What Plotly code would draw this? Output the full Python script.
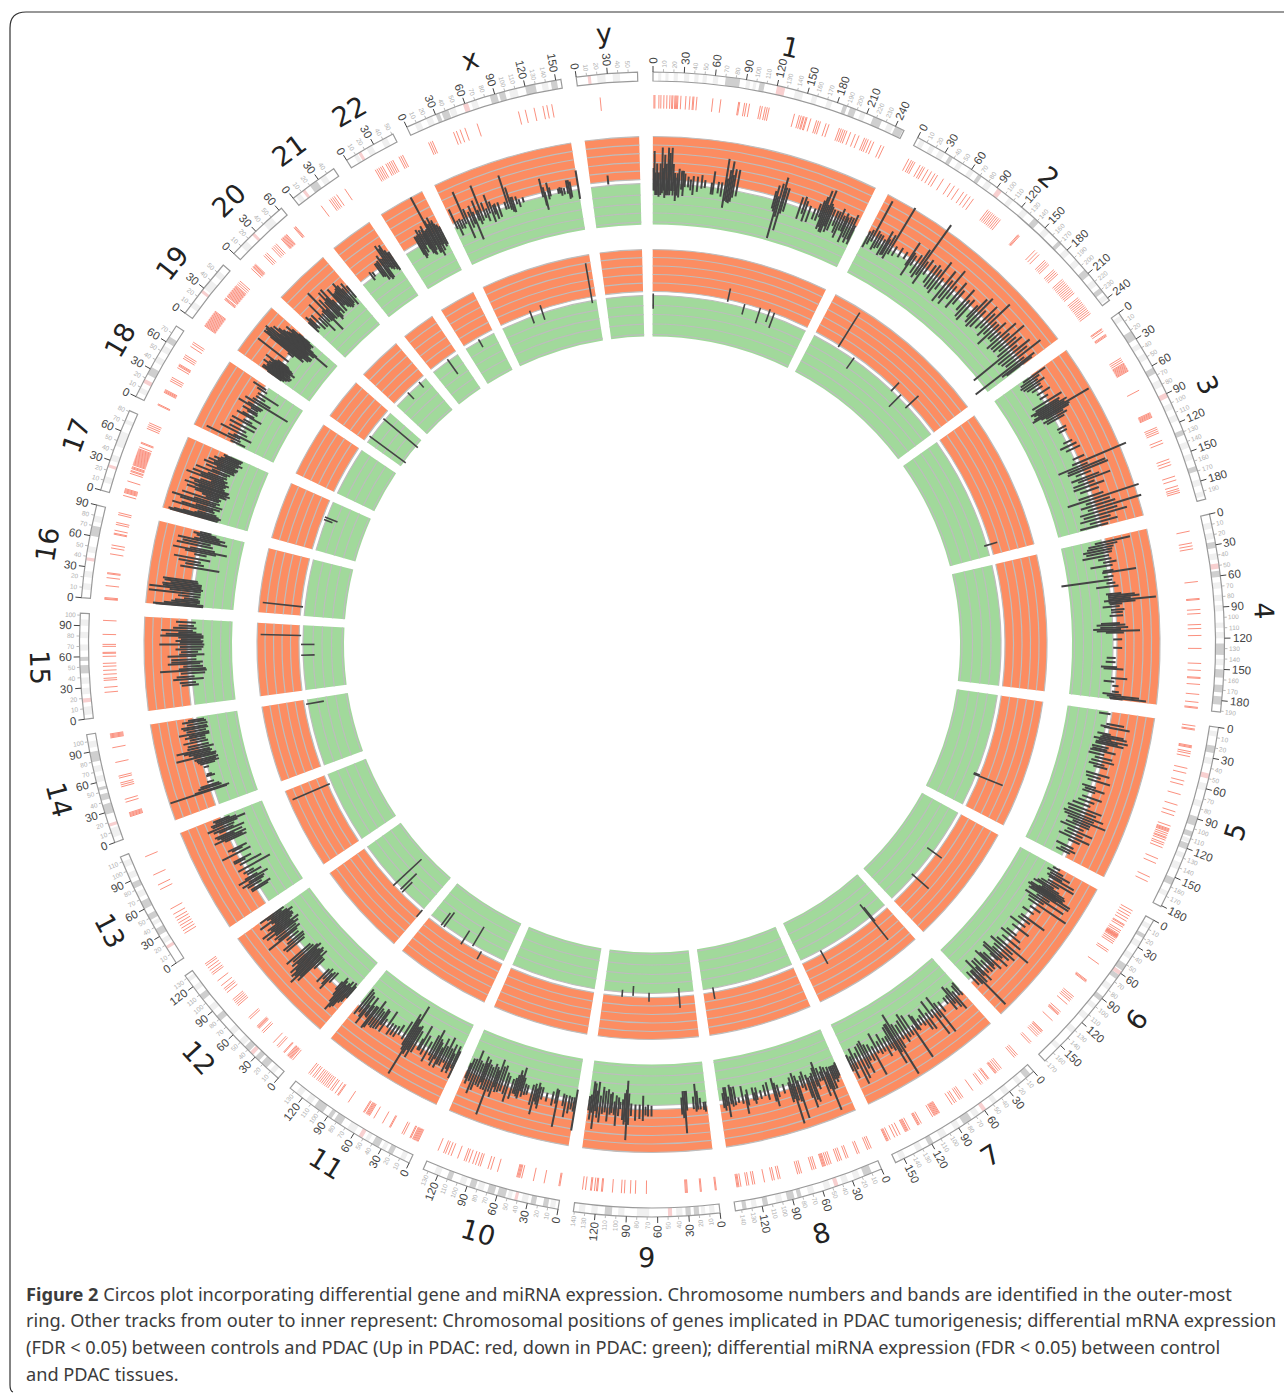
import math
import plotly.graph_objects as go

# ---------- data ----------
chrom_names = ["1","2","3","4","5","6","7","8","9","10","11","12","13","14","15","16","17","18","19","20","21","22","x","y"]
chrom_sizes = [249,243,198,191,181,171,159,146,141,135,135,133,115,107,102,90,81,78,59,63,48,51,155,59]
major_step = 30
minor_step = 10

centromere = {"1":(120,128),"2":(91,96),"3":(89,94),"4":(48,53),"5":(45,50),"6":(58,62),"7":(58,62),"8":(44,48),"9":(46,50),"10":(40,43),"11":(51,55),"12":(33,37),"13":(16,19),"14":(16,19),"15":(16,20),"16":(36,39),"17":(23,26),"18":(15,19),"19":(25,28),"20":(25,28),"21":(11,14),"22":(13,16),"x":(58,63),"y":(11,14)}
bands_dark = {
 "1":[(70,84),(103,108),(186,190),(193,199),(217,226),(240,248)],
 "2":[(35,39),(68,72),(136,142),(168,172),(205,212),(228,233)],
 "3":[(21,30),(62,68),(128,133),(165,170)],
 "4":[(27,33),(55,61),(125,136),(150,158),(165,172),(176,184)],
 "5":[(18,25),(88,97),(103,108),(115,121),(151,158)],
 "6":[(16,20),(50,57),(62,67),(88,93)],
 "7":[(4,10),(75,84),(118,123)],
 "8":[(10,18),(81,85),(88,95),(114,119),(135,139)],
 "9":[(20,25),(28,33),(104,111)],
 "10":[(10,15),(22,27),(52,60),(63,70),(82,88),(106,111)],
 "11":[(18,23),(33,40),(75,83),(86,90),(96,106)],
 "12":[(15,22),(25,30),(38,44),(78,84),(104,110)],
 "13":[(31,38),(48,54),(60,68),(82,88)],
 "14":[(28,38),(42,48),(52,55),(80,90)],
 "15":[(44,52),(56,60)],
 "16":[(60,70)],
 "17":[],
 "18":[(24,32),(60,66)],
 "19":[],
 "20":[],
 "21":[(20,28)],
 "22":[],
 "x":[(30,34),(36,43),(85,92),(94,100),(120,130),(145,151)],
 "y":[],
}
bands_light = {
 "1":[(5,8),(12,15),(20,24),(30,35),(40,44),(48,52),(58,63),(90,94),(97,100),(138,146),(155,160),(170,175),(204,209),(232,238)],
 "2":[(3,8),(14,19),(24,30),(45,50),(58,63),(78,84),(105,110),(122,128),(150,156),(178,184),(192,198),(218,224),(236,241)],
 "3":[(3,8),(35,40),(46,52),(75,82),(100,106),(112,118),(140,146),(152,158),(178,184),(190,195)],
 "4":[(8,14),(18,24),(38,44),(66,72),(78,84),(88,94),(105,110),(114,120),(140,146)],
 "5":[(4,9),(30,36),(55,62),(72,78),(110,114),(125,130),(135,142),(165,170)],
 "6":[(5,10),(24,30),(38,44),(74,80),(98,103),(110,116),(128,134),(150,155)],
 "7":[(15,20),(30,36),(45,50),(66,72),(88,94),(103,110),(130,136),(148,154)],
 "8":[(22,28),(34,40),(52,58),(68,74),(100,106),(125,130)],
 "9":[(5,10),(14,18),(36,42),(68,80),(92,98),(118,124),(130,136)],
 "10":[(3,8),(30,36),(46,50),(74,80),(92,98),(118,124)],
 "11":[(5,10),(26,30),(44,48),(60,68),(110,116),(122,128)],
 "12":[(6,11),(46,52),(60,66),(90,96),(115,120),(126,130)],
 "13":[(22,27),(42,46),(72,78),(92,98),(104,110)],
 "14":[(5,14),(60,66),(70,76),(94,100)],
 "15":[(4,12),(24,30),(34,40),(66,72),(78,84),(90,96)],
 "16":[(8,14),(20,26),(44,50),(74,80)],
 "17":[(8,14),(30,36),(45,60),(68,72)],
 "18":[(5,10),(38,44),(50,56)],
 "19":[(8,14),(30,40),(46,52)],
 "20":[(10,17),(40,50)],
 "21":[(3,8),(32,38)],
 "22":[(8,12),(22,28),(38,44)],
 "x":[(8,14),(20,26),(44,50),(66,72),(104,112),(136,142)],
 "y":[(20,28),(35,42)],
}

g1=[1,2,6,8,11,14,17,19,20,22,23,24,25,28,33,37,40,41,44,60,68,86,87,92,94,97,108,110,113,115,117,143,148,150,152,153,155,156,160,166,168,170,176,179,190,192,194,196,198,202,207,211,217,219,221,224,227,235,238]
g2=[2,5,7,9,15,18,20,24,28,32,35,42,50,55,60,66,70,74,78,96,98,100,102,104,106,108,110,112,135,136,137,158,161,164,172,174,176,178,185,187,189,191,198,200,202,204,206,208,210,212,214,216,222,224,226,228,230,232,234,236,238,240,242]
g3=[3,4,6,10,11,12,38,40,42,44,45,46,47,48,49,50,51,52,53,75,100,101,102,103,104,105,116,118,120,122,130,133,150,153,156,168,172,178,181,183,185]
g4=[12,24,27,30,63,80,81,91,95,106,110,117,130,145,152,159,160,166,176,184,189,190]
g5=[2,5,6,22,23,24,28,30,33,45,50,58,62,72,83,90,94,105,108,109,110,111,113,115,117,118,120,123,125,128,140,145,160,165]
g6=[2,5,8,11,14,18,19,21,25,27,29,30,30.5,31,31.5,32,32.5,33,34,36,38,40,48,50,65,85,86,87,106,108,110,112,116,126,128,129,130,138,152,153,154,156,158,160,168,170]
g7=[1,3,5,22,24,26,28,29,30,38,39,41,46,48,58,70,72,74,78,80,83,98,99,100,101,102,103,104,106,119,121,122,123,132,134,135,136,137,143,146,149,154,156,157,158]
g8=[1,3,5,14,16,26,28,33,35,37,44,46,48,50,51,52,53,60,62,64,75,77,79,97,99,103,105,113,123,125,129,131,137,139,140,141]
g9=[1,2,16,17,30,31,32,71,82,87,93,96,105,115,116,120,121,123,126,127,132,135]
g10=[2,3,18,29,41,43,44,45,46,66,73,76,84,86,89,92,96,99,101,108,115,118,121,123,129]
g11=[1,2,3,4,5,6,7,9,10,17,19,32,33,41,51,56,57,58,59,60,62,63,81,93,94,97,101,103,106,108,110,112,114,116,118,120,123,125,128,130]
g12=[1,3,4,5,6,7,8,12,13,20,22,27,41,43,47,48,49,50,60,62,78,80,82,84,86,95,98,100,104,110,118,120,123,126,129,131]
g13=[20,23,26,29,32,35,38,42,48,70,75,86,106]
g14=[19,20,21,22,23,34,37,50,52,54,59,61,75,90,100,101,102,103,104]
g15=[24,29,36,38,42,46,50,53,60,63,64,70,72,82,96]
g16=[0.3,1,2,14,22,26,27,46,52,55,66,67,70,76,78,86,88]
g17=[1,4,5,6,7,8,16,24,26,27,29,30,31,33,34,35,36,37,38,39,40,41,42,43,44,45,46,47,48,49,50,52,56,57,72,74,76,78]
g18=[2,3,16,17,18,19,29,31,33,44,46,47,48,55,57,59,69,72,74]
g19=[1,2,3,4,5,6,7,8,9,10,11,12,13,14,15,16,17,18,19,34,35,36,38,39,40,41,42,43,44,45,46,47,48,49,50,51,52,54,56,58]
g20=[1,3,4,5,6,7,19,21,23,30,32,34,36,43,44,45,46,47,48,49,50,60,61,62]
g21=[17,27,29,31,33,36,46]
g22=[19,21,23,25,27,31,33,35,37,39,46,48,50]
gx=[13,15,17,40,43,47,52,65,108,115,124,133,137,142]
gy=[21]
gene_lists=[g1,g2,g3,g4,g5,g6,g7,g8,g9,g10,g11,g12,g13,g14,g15,g16,g17,g18,g19,g20,g21,g22,gx,gy]

# mRNA: (Mb, extent up in PDAC, extent down in PDAC)
m1=[(1,1.5,1),(2,3.4,1),(3,1,1.5),(5,2,1.5),(7,1,1.7),(9,2,1.5),(11,3.8,1.3),(13,1.5,1),(14,3,1.8),(16,2,1.5),(18,3.8,1.5),(19,2.5,1),(20,3.2,1.5),(22,3.8,1),(24,2,1.5),(26,1,1),(27,.5,2.1),(29,1,1.5),(31,1.5,1.7),(34,1.3,.8),(36,1.3,1.5),(38,1,.5),(42,.7,.5),(45,.4,.8),(48,.8,1.3),(53,.8,.9),(58,1,.5),(62,.5,.4),(70,.3,1),(72,1.6,1),(78,.5,.8),(82,.5,1.1),(86,3.2,2.3),(88,1,1.5),(90,2,1.6),(92,3,1.7),(94,1.5,1.5),(96,2.2,1),(100,2.2,.8),(146,.8,1.2),(148,1.5,1.5),(150,.3,4.5),(152,1.8,2),(155,2.6,3.5),(157,1.5,1.5),(160,1.5,1.2),(178,1,1.5),(182,1.2,.8),(185,.8,1.6),(190,.4,1.5),(196,.3,1),(200,1,1),(203,1.5,.5),(205,2,1.8),(207,2.8,1.5),(209,1.2,2),(211,3,2),(213,1.5,1.2),(215,1.2,1.8),(218,1,1.5),(222,1,.8),(225,1,1.5),(228,1.5,2),(231,.8,1),(234,1.2,1),(236,.8,2.2),(239,1,1.5),(242,1,2),(245,1.5,1.5),(247,.3,2)]
m2=[(2,.5,1.5),(5,.8,1),(8,4.6,.5),(12,1,1.3),(15,.8,1),(18,.8,.8),(22,.5,1.5),(25,1.7,1.3),(27,.8,1.2),(30,1.5,1.5),(33,5.2,.8),(38,.5,.7),(45,.7,.5),(52,.6,.3),(58,2.2,.8),(60,1,2),(63,.8,.5),(68,1.2,1.2),(72,2.2,1.5),(75,5.8,1),(78,1,2),(82,1.5,.5),(88,1.2,1.2),(92,1.5,1.5),(96,1.2,1.5),(100,2.5,1.8),(104,.6,1),(110,2,2.2),(114,1,1.5),(118,2.7,2),(122,.8,1),(128,1.8,1.8),(132,1,1),(140,1.8,1.2),(144,.6,1.8),(148,1,2),(155,.8,1),(158,2,1.5),(162,2.5,1.8),(166,1,1.5),(172,2.2,1.2),(176,1.5,.8),(180,3.4,1.6),(184,1,1),(188,1,2.2),(192,1.7,1),(196,.6,1),(200,2.5,1.8),(204,1.2,1.5),(208,3,1.5),(212,1.5,1),(216,2,1.5),(220,1,5.2),(224,2.5,2),(228,1.8,1.8),(232,3.4,1.5),(236,.8,6),(239,2,2.5),(241,1.5,2)]
m3=[(2,2,1),(5,1,1.5),(8,.6,1.7),(11,1.3,1.5),(14,.6,1.2),(18,.6,.8),(24,1.2,.5),(30,.6,.5),(36,2,1.8),(40,1.5,1.6),(42,1.3,2.3),(44,2.2,2),(46,1.8,1.6),(48,4.8,2.2),(50,2.2,2.5),(52,2,1.5),(54,1.2,1),(57,1.5,1.5),(60,1,1.2),(72,.6,.5),(76,.5,.5),(90,.5,.6),(95,.8,1.2),(100,1,.7),(112,1,.4),(118,5.8,.7),(122,1,2.5),(125,3,1.5),(128,3.2,1.6),(132,1,.8),(137,1.8,1.5),(140,3,.8),(144,1,1.5),(148,2,1.6),(153,1.2,1),(160,1.5,1.4),(164,5.5,2.8),(168,2,.8),(172,2.5,1.5),(176,5.4,.8),(180,2.5,1.8),(184,3.5,1.5),(188,1.5,2),(192,2.2,1),(196,1,2.2)]
m4=[(4,3,1),(7,1.5,1.8),(10,1,2),(13,.8,2.5),(16,.7,2.2),(20,.3,2.7),(24,.5,1),(28,1,.5),(32,.5,2),(38,.5,.7),(40,3,.8),(45,.4,.7),(49,.2,5.5),(53,.5,.5),(57,.8,1.7),(66,1,.7),(68,2.5,.5),(70,3,.5),(72,2,.5),(74,4.8,1),(76,2.5,.5),(78,1,.4),(81,.7,1.2),(85,1.2,.3),(88,1,.3),(92,1,.5),(101,.6,1.5),(103,1.2,2),(106,1.5,1.6),(108,.7,2.4),(110,2.8,2),(112,1,1),(120,.8,.2),(130,.8,.2),(142,.1,.9),(147,.1,1),(153,.3,1.5),(155,1,1.2),(166,1.5,.3),(170,.1,1.1),(175,.6,.1),(182,.7,.1),(185,1,1.1),(187,3,.6),(189,3.8,.3),(190,1.2,.2)]
m5=[(3,.1,1.2),(15,1.8,.2),(18,.2,.8),(19,2.5,.4),(27,.5,1),(29,2,.4),(31,2.4,.6),(33,.7,1.3),(35,2.6,.7),(37,1.5,1),(39,2.2,1),(43,.6,1.3),(46,.5,1.2),(48,1.5,1.4),(52,.3,1.5),(56,1.3,.7),(60,1.6,1),(64,.6,1.2),(67,1,.6),(76,1.5,1.2),(80,.6,1.1),(84,1.8,.8),(92,.4,1.2),(95,1.5,.8),(98,.5,1),(105,1.5,.8),(110,.8,1.1),(115,.5,1.6),(120,2,2),(124,1.5,1.8),(128,2.5,2.2),(131,1.5,2),(134,3,1.5),(137,1.3,.8),(140,1.3,1.5),(144,.8,2),(148,2,1),(152,1,1.2),(156,2,1.7),(160,1,.4),(168,.6,1.5),(172,1,.8),(175,.5,1.2)]
m6=[(2,.4,.5),(6,1,1),(9,2,.5),(12,1.2,.7),(14,2.8,.4),(18,3,.3),(21,1.3,1),(24,.8,1.3),(26,1.6,1.7),(28,2.4,.5),(30,2.6,.8),(31,1.5,1.8),(32,2.4,1),(33,2.5,2),(34,3.5,.8),(35,1.8,1.5),(37,3.5,1.7),(40,1.2,.5),(43,3.2,1.8),(46,.8,1.2),(50,4,1),(56,1,.4),(62,.5,1),(70,2.5,.7),(74,.8,.8),(80,.6,1.5),(86,1.5,.8),(94,.4,1),(98,1.2,1.5),(104,1.7,.9),(110,3.3,1.2),(114,1.4,1.8),(118,2,1),(122,1.5,.9),(125,.8,2),(128,1.8,1.8),(130,.6,.6),(135,1.5,1.2),(138,.7,1.5),(140,1,2),(144,1,.8),(148,.8,1.5),(152,1.6,1.5),(154,.7,.7),(157,1.4,2),(160,4.6,.8),(162,1.2,.8),(166,1,1)]
m7=[(2,.6,1.2),(5,.4,1),(9,2,.5),(12,1.5,1.2),(15,.8,1.6),(18,1.4,.6),(22,.3,.6),(30,.8,.6),(35,3.2,.8),(38,1,1.8),(42,3,.4),(46,.5,1.8),(50,1.7,.5),(54,1.5,1.3),(58,.7,.7),(62,.4,.5),(66,.8,1.1),(68,.6,1.4),(72,4,.2),(76,.8,1.8),(80,.8,2.2),(84,1.2,1.6),(88,.6,1.3),(92,1.5,1.6),(95,4.7,3),(98,1.7,2),(100,3,2),(103,1.2,1.8),(106,.8,.8),(110,1.5,.8),(114,.7,1.5),(118,.8,.8),(122,.5,2),(126,3,.6),(130,1,1),(134,.8,1.2),(137,2.2,1.8),(140,1.5,1.6),(144,2.5,1.4),(148,3,.8),(152,1,1.5),(155,2,.7),(158,1,1)]
m8=[(1,.8,.8),(3,1,.6),(5,1.4,.6),(7,1,.6),(9,2,.6),(12,2,.7),(14,4.4,.2),(16,1.8,.8),(19,2.5,1),(21,.6,.5),(24,.6,1),(27,1.4,1.8),(29,1,1.2),(32,2.7,.7),(34,2.4,.4),(37,3.2,.3),(39,2,.7),(43,1,1.2),(46,.6,.8),(50,4,.4),(52,2,1),(55,1.8,1.4),(57,4.4,.2),(59,1.5,1),(61,1.8,.5),(68,.6,.5),(75,.8,.6),(78,1.8,.9),(80,1.2,1.5),(87,.8,1.2),(91,.3,1),(96,.5,.5),(101,.5,.9),(103,.9,.4),(105,.5,1),(112,.9,.9),(114,1.8,.4),(118,.6,1.4),(123,.4,.2),(127,.6,1.5),(130,.7,1.5),(132,.4,1.8),(135,1.8,.5),(137,.5,1.6),(139,1,1.6),(141,.7,1)]
m9=[(2,.8,.3),(4,.6,.3),(8,.5,.8),(11,.5,1.6),(13,.7,2.4),(16,.4,1),(24,.5,1.7),(26,3,1.7),(28,1.3,1.7),(30,.9,1),(66,1,.2),(70,1,.3),(73,.9,.1),(76,1.5,1.3),(80,1.3,.3),(85,1.5,.3),(90,1,.4),(93,2,1.5),(95,3.7,2.9),(96,1.7,1.9),(98,2,1.5),(100,1.5,.8),(103,.3,.5),(105,1.1,1),(108,2.2,1.2),(110,1,.5),(113,.8,1.5),(115,1,1.3),(118,1.8,1.8),(121,.8,1.6),(124,1,2),(127,2,1),(130,1.5,2.5),(132,.8,1.5),(134,2.8,2.3),(136,1,2.5),(138,1.8,1),(140,.8,.8)]
m10=[(0,3.3,1.3),(2,1.2,.4),(5,1,.4),(8,1.5,.5),(12,2,.5),(15,.8,.6),(22,3.3,.9),(24,.7,1),(28,1,.6),(35,.7,.3),(41,.6,.8),(44,1.7,.8),(46,1.3,1.2),(48,1,.5),(50,2.5,1),(53,1.5,.8),(59,.5,.6),(62,.6,.7),(65,.9,1.3),(67,.3,2.4),(69,1.2,1.5),(71,1,2),(73,.8,1.4),(75,.8,1),(78,1.5,.8),(83,2,1),(86,1.2,1.3),(90,1,2),(93,1.2,1.8),(96,1.3,2.5),(98,.8,1.2),(100,2,1.5),(103,1.5,1.8),(106,4.3,1.3),(109,1.5,1.5),(112,1.5,2),(114,.8,1.5),(116,1.4,2.2),(119,1.3,1.3),(122,2,1.5),(125,2.5,2.6),(128,1.2,1.5),(131,1.6,1.4),(133,1,.8)]
m11=[(1,1.8,1.5),(3,.7,2),(6,1.4,1),(8,1,2),(11,1.5,1.4),(14,.5,2.6),(17,1,1.4),(20,1,2.2),(22,1.5,1),(25,.6,1.5),(27,1.5,1.8),(30,1,2.8),(33,.5,2),(37,1.5,1),(42,.9,1.5),(46,.6,2.5),(48,.6,.8),(53,1.2,1.5),(56,2,2),(58,1.2,1.8),(60,1.8,1.7),(62,4.5,4.2),(64,1.5,2.5),(66,1,3),(70,.5,1.8),(76,.3,1),(80,.8,.6),(84,.8,.5),(88,1,.5),(92,.3,1.8),(97,1.2,.5),(100,.5,1.4),(102,1.2,1.5),(105,1.3,1),(108,1.4,1.2),(111,1.3,2),(114,1.8,1),(116,2,1),(119,.8,.8),(121,.7,1.8),(124,2,.6),(126,1.2,1.7),(129,.8,2),(132,1.3,2.2)]
m12=[(1,.5,1.2),(3,1.2,1.5),(5,1.5,.8),(7,2.2,1.4),(9,2.5,1),(11,3,.6),(13,2,1),(15,1.2,1.3),(17,.6,.6),(28,.5,1),(31,1.7,.8),(33,1.2,.5),(36,.7,.9),(39,1.4,.6),(52,.6,1),(55,2.8,1),(57,2.3,1.8),(59,3.5,1),(61,2.7,1.6),(63,3,1.8),(65,2.2,1.4),(67,2.8,1.2),(69,1.6,1.9),(71,2.2,1.6),(74,1.8,1.2),(77,2.5,1),(88,1.6,1),(91,1.8,1.2),(94,1,1.3),(98,.8,.9),(102,3,1),(104,1.5,1.5),(107,1.8,1.2),(110,1.4,1.7),(112,2.5,1.2),(114,1.3,2),(116,2.8,1),(118,1.5,1.4),(120,1.8,1.7),(122,.7,1.7),(124,1,1.5),(126,2.4,2),(128,.8,1.4),(130,1.2,.8),(132,2,1.2)]
m13=[(20,.8,1.3),(22,.8,1.7),(26,1,.8),(29,1.5,1.2),(31,.6,1.4),(34,1.7,2),(36,.8,.8),(40,.3,1.5),(43,.6,.7),(48,1,3),(54,.5,2.2),(58,1,.4),(60,1,1.2),(68,2,1.5),(72,.6,.7),(74,1,1.3),(86,.8,1.8),(88,2,1.4),(90,1.1,1.9),(92,1.5,.6),(94,1.7,1.6),(98,1,2),(100,1.6,.8),(103,2.2,1),(106,1.5,1.5),(108,1.6,2.5),(110,1,1.5),(112,1.2,.8)]
m14=[(19,4.9,1.7),(20,2,2),(23,1.5,1.2),(25,1.2,1),(29,.3,.5),(36,.2,.8),(38,.1,.5),(47,.2,.4),(51,.5,1.2),(53,.7,1.7),(55,.8,1.4),(57,1,1.7),(60,3,1.5),(62,1,1.6),(64,1.5,1),(66,2,1.2),(68,2.8,1),(71,1.5,1.5),(74,1.4,1),(78,1.8,1),(81,1,.8),(84,1.5,.8),(86,1,1.3),(88,2.1,1.3),(91,1.2,1),(94,1.5,1.3),(96,1.7,1.2),(99,1,1.3),(102,1.5,1.2),(104,.8,1)]
m15=[(24,1,.9),(27,1.2,.6),(31,1.9,1.5),(34,1.5,.5),(38,1,1.7),(41,3.3,1.9),(43,1.2,1.8),(46,.7,1.5),(49,2.4,1.2),(51,2,1.5),(54,2,.8),(58,2.4,.8),(60,1.1,1.7),(63,.9,1),(66,1.5,1.4),(69,1,1.6),(72,3.3,1.7),(74,1,1.5),(76,1.5,1.6),(78,.9,1.3),(80,1.2,1.6),(82,3.2,1.6),(84,2.6,1.4),(86,1.2,.8),(88,3.1,.4),(91,1.8,.8),(94,1.2,.5),(98,1.5,.7)]
m16=[(0.5,3.9,1.4),(1,4.2,.8),(2,1.5,1.4),(3,3,.7),(5,2.2,1),(7,1.8,1),(9,.8,.8),(12,1.5,1),(15,4.8,1),(18,2.5,1),(20,4.8,1.2),(22,3.3,1),(24,3.4,1),(26,2.5,1),(28,3.2,.6),(30,3.4,.5),(46,1.7,2.7),(50,1.2,.9),(53,2,.5),(57,2.6,1.5),(62,.4,1),(65,1.5,2),(67,2.9,3.2),(69,1,1.8),(73,2.6,1.5),(76,2,1.2),(79,2.6,3),(81,.8,2.2),(83,.2,2.7),(85,.6,2),(87,1,1.6),(89,.3,1)]
m17=[(1,4.2,1.3),(2,4.4,.8),(3,3.8,1.4),(4,2.8,1.6),(5,1.5,1.3),(7,1.2,1),(10,4.2,.7),(12,3.2,.5),(14,1.6,1.2),(17,3.5,1.4),(19,4.5,.6),(21,2,1),(24,3.5,.8),(26,.8,1),(28,1.3,.7),(30,2.2,1.5),(32,3.2,1.2),(33,1.8,1.8),(35,2.4,1.4),(36,3.6,1.5),(37,2,1.6),(39,2.6,1),(41,3.2,.8),(43,2,1),(45,.8,1.3),(47,3.8,.8),(49,2.2,1),(51,3.2,.5),(53,1.5,.8),(56,3,.7),(58,1.2,1),(61,2,1.4),(63,.8,1.3),(65,2.4,1.5),(67,1.3,1.6),(69,2,1.2),(71,1,1.5),(73,1.5,1.9),(75,.8,1.4),(77,.4,1.6),(79,.6,1.7)]
m18=[(2,.6,1.2),(5,3.7,.5),(8,1.2,.3),(10,.6,1.6),(14,2.4,.9),(18,1.5,.6),(23,1.7,1.4),(28,1.7,1.4),(31,.4,.7),(36,1.5,1.6),(38,.9,.6),(42,.5,.8),(44,1.2,.7),(47,.3,.6),(49,2,.9),(51,.9,1),(55,1.5,4),(58,.7,1.6),(62,.5,.7),(66,.5,2.2),(71,.9,.4),(74,1.6,.1)]
m19=[(1,1,.9),(2,1.8,1.2),(3,1.4,.9),(4,1.8,1.4),(5,1.4,1.5),(6,1.2,1.7),(7,1.5,.9),(8,1.2,1.8),(9,2.1,1.3),(10,1,1.5),(11,1.5,1),(12,1.2,1.4),(13,1,1.9),(14,1.5,1.1),(15,2.2,1.5),(16,1,1.3),(17,.7,.9),(18,.8,.7),(24,4,.3),(32,.4,.4),(34,3,.4),(35,4,1.6),(36,3.7,1),(37,2.4,1.3),(38,4,1.2),(39,2,2),(40,4.2,1.4),(41,2.6,2.2),(42,3.7,1.7),(43,2.4,2.2),(44,1.8,1.4),(45,3.5,1.6),(46,2.2,1.4),(47,2.9,2.2),(48,1.2,1),(49,2.4,4),(50,2,2.4),(51,1.8,1.8),(52,1.5,1.1),(53,1.5,1.3),(54,2.4,.9),(55,.8,1.2),(56,1.7,1.4),(57,.8,.8)]
m20=[(1,.9,.7),(3,1.5,.3),(5,1.1,.5),(9,1.2,1),(13,.4,1),(16,2.2,1.9),(19,.5,.8),(22,.7,.9),(24,3.2,2.4),(26,.5,.9),(28,1.8,1.1),(31,1.2,1.1),(33,2.4,1.6),(35,1.4,1.4),(37,2.5,.7),(39,.8,1.2),(43,2,1.2),(44,1.2,.5),(46,1.2,.6),(48,1.3,1),(50,1.5,1.2),(52,2.1,1.4),(54,1.6,1.3),(56,1,1.1),(59,1.5,1.5),(62,.9,.8)]
m21=[(15,.5,.6),(18,.3,.3),(26,.9,.9),(28,.9,1),(30,1,1.5),(33,1.5,1.4),(34,1,1.7),(36,.9,1.6),(38,2.5,.4),(40,2,.7),(42,2.3,.9),(44,1.5,.7),(45,1.1,1.1),(47,1.1,1.3)]
m22=[(19,1,1.3),(20,.9,1.8),(22,1,1.6),(24,1.6,.8),(25,1,1.3),(27,1.4,.5),(29,.8,1.1),(30,1.3,1.7),(31,1.7,1.1),(32,.8,1.9),(33,1,2),(35,1.1,1.5),(37,5,1),(38,2,2),(39,1.5,2),(41,1.5,2.5),(42,2.2,1.3),(44,1.5,2),(45,1.7,1),(46,1.2,1.3),(48,1,1.7),(50,.7,1.5)]
mx=[(3,1.9,.5),(6,.4,1.4),(9,.5,.7),(12,.3,.8),(15,3.5,.4),(18,1.3,2.2),(22,.8,1.1),(25,1.4,.8),(27,.6,2.7),(31,1.8,.6),(33,.6,1.1),(36,3.4,.8),(40,1.2,.6),(43,.4,1.1),(46,1.9,.3),(49,1,1.4),(52,.5,.6),(54,.6,1.2),(58,.6,1.1),(66,.4,.5),(69,3.4,.5),(72,1.9,.7),(74,.7,1),(76,.7,1.1),(80,.6,.3),(83,.2,.7),(88,.3,.3),(112,1.8,.3),(114,.8,1.3),(115,.2,1.8),(119,1.2,.7),(121,.6,.4),(131,.3,.3),(133,.4,.3),(135,.3,.6),(138,.2,.5),(142,1,.5),(144,1,1.1),(146,.8,1),(155,1.9,1.3)]
my=[(21,.9,.1)]
mrna_lists=[m1,m2,m3,m4,m5,m6,m7,m8,m9,m10,m11,m12,m13,m14,m15,m16,m17,m18,m19,m20,m21,m22,mx,my]

# miRNA: (Mb, extent up, extent down)
mi_values={
 "1":[(1,0,1.7),(118,1.5,0),(145,.2,1),(170,.3,1.5),(185,.5,1),(193,.3,1.5)],
 "2":[(42,4.5,0),(72,0,1.5),(150,1,.3),(165,.2,1.7),(185,1.5,.5)],
 "3":[(181,1,.5)],
 "5":[(128,.2,.5),(130,3,.5)],
 "6":[(73,1,1),(121,2,.5)],
 "7":[(28,.5,1.5),(30,3,2),(124,1.5,.2)],
 "8":[(130,1,.3)],
 "9":[(23,1.5,.7),(70,.7,.3),(95,.1,1),(112,.3,.5)],
 "11":[(38,1,0),(54,0,2.5),(71,.5,1.3),(108,0,2),(113,0,1.7)],
 "12":[(1,1,0),(43,.1,1.5),(48,0,2.5),(60,.3,4)],
 "13":[(100,4.5,0)],
 "14":[(100,0,2)],
 "15":[(55,0,1.5),(72,0,1.5),(86,4.5,0)],
 "16":[(14,4.5,0)],
 "17":[(50,0,1),(54,0,1.5)],
 "19":[(10,0,5),(45,0,5)],
 "20":[(27,0,1),(51,0,.8)],
 "21":[(30,0,2)],
 "22":[(25,0,1)],
 "x":[(50,.5,1),(68,.7,1),(148,4,.5)],
}

caption_lines = [
 "<b>Figure 2</b> Circos plot incorporating differential gene and miRNA expression. Chromosome numbers and bands are identified in the outer-most",
 "ring. Other tracks from outer to inner represent: Chromosomal positions of genes implicated in PDAC tumorigenesis; differential mRNA expression",
 "(FDR &lt; 0.05) between controls and PDAC (Up in PDAC: red, down in PDAC: green); differential miRNA expression (FDR &lt; 0.05) between control",
 "and PDAC tissues.",
]

# ---------- layout constants ----------
W, H = 1284, 1393
CX, CY = 652, 644.5
RMAX = 630
GAP = 1.55
SCALE = (360 - 24 * GAP) / sum(chrom_sizes)
ORANGE, GREEN = "#fc8d62", "#a1d99b"
GRID = "#bdbdbd"

starts = {}
a = 0.1
for n, s in zip(chrom_names, chrom_sizes):
    starts[n] = a
    a += s * SCALE + GAP

def th(name, mb):
    return starts[name] + mb * SCALE

def px(x, y):
    return x / W, 1 - y / H

def pol2paper(r, t):
    rad = math.radians(t)
    return px(CX + r * math.sin(rad), CY - r * math.cos(rad))

def norm(angle):
    while angle > 180:
        angle -= 360
    while angle <= -180:
        angle += 360
    return angle

fig = go.Figure()

def sectors(r_in, r_out, color, ranges, line=None):
    thetas = [(t0 + t1) / 2 for t0, t1 in ranges]
    widths = [t1 - t0 for t0, t1 in ranges]
    fig.add_trace(go.Barpolar(
        theta=thetas, width=widths, base=[r_in] * len(ranges), r=[r_out - r_in] * len(ranges),
        marker=dict(color=color, line=line or dict(width=0)), hoverinfo="skip", showlegend=False))

def radial(pairs, color, width, opacity=1.0):
    ts, rs = [], []
    for t, r0, r1 in pairs:
        ts += [t, t, None]
        rs += [r0, r1, None]
    fig.add_trace(go.Scatterpolar(theta=ts, r=rs, mode="lines", line=dict(color=color, width=width),
                                  opacity=opacity, hoverinfo="skip", showlegend=False, cliponaxis=False))

full = [(th(n, 0), th(n, s)) for n, s in zip(chrom_names, chrom_sizes)]

# data rings
RING_OUT = [(465, 508, 461, 420), (353, 395, 349, 308)]
for o0, o1, g1_, g0 in RING_OUT:
    sectors(o0, o1, ORANGE, full)
    sectors(g0, g1_, GREEN, full)
GRID_R = [508, 499.5, 491, 482, 473.5, 465, 461, 449.5, 440.5, 431.5, 422.5,
          395, 387, 378.5, 370, 361.5, 353, 349, 339, 330, 320.5, 310]
for r in GRID_R:
    sectors(r - 0.6, r + 0.6, GRID, full)

# ideogram
ID_IN, ID_OUT = 563.5, 572.5
for n in chrom_names:
    if bands_light[n]:
        sectors(ID_IN, ID_OUT, "#f0f0f0", [(th(n, a0), th(n, a1)) for a0, a1 in bands_light[n]])
    if bands_dark[n]:
        sectors(ID_IN, ID_OUT, "#cfcfcf", [(th(n, a0), th(n, a1)) for a0, a1 in bands_dark[n]])
sectors(ID_IN, ID_OUT, "#f8d0d0", [(th(n, centromere[n][0]), th(n, centromere[n][1])) for n in chrom_names])
sectors(ID_IN, ID_OUT, "rgba(0,0,0,0)", full, line=dict(color="#9a9a9a", width=1.2))

# ticks
minor_ticks, major_ticks = [], []
annos = []
for n, s in zip(chrom_names, chrom_sizes):
    t_mid = th(n, s / 2)
    for mb in range(0, s + 1, minor_step):
        t = th(n, mb)
        is_major = mb % major_step == 0
        if is_major:
            major_ticks.append((t, ID_OUT, 578.5))
        else:
            minor_ticks.append((t, ID_OUT, 575.5))
        label = str(mb)
        ang = t - 90 if t_mid < 170 else t + 90
        if is_major:
            rc = 580.5 + 3.2 * len(label)
            fs, col = 11.5, "#444444"
        else:
            rc = 577 + 1.8 * len(label)
            fs, col = 6.5, "#b0b0b0"
        x, y = pol2paper(rc, t)
        annos.append(dict(x=x, y=y, xref="paper", yref="paper", text=label, showarrow=False,
                          xanchor="center", yanchor="middle", textangle=norm(ang),
                          font=dict(family="Liberation Sans", size=fs, color=col)))
    lab_ang = t_mid - 180 if 90 < t_mid < 270 else t_mid
    x, y = pol2paper(613, t_mid)
    annos.append(dict(x=x, y=y, xref="paper", yref="paper", text=n, showarrow=False,
                      xanchor="center", yanchor="middle", textangle=norm(lab_ang),
                      font=dict(family="DejaVu Sans", size=27, color="#222222")))
radial(minor_ticks, "#a8a8a8", 0.8)
radial(major_ticks, "#444444", 1.0)

# gene track
gene_pairs = []
for n, g in zip(chrom_names, gene_lists):
    gene_pairs += [(th(n, v), 536, 549.5) for v in g]
radial(gene_pairs, "#f8553a", 0.9, 0.72)

# mRNA and miRNA bars
UNIT = 9.0
BASE1, BASE2 = 463, 351
bars = []
for n, m in zip(chrom_names, mrna_lists):
    bars += [(th(n, p), BASE1 + u * UNIT, BASE1 - d * UNIT) for p, u, d in m]
radial(bars, "#444444", 2.0)
mi_bars = []
for n, m in mi_values.items():
    mi_bars += [(th(n, p), BASE2 + u * UNIT, BASE2 - d * UNIT) for p, u, d in m]
radial(mi_bars, "#444444", 1.6)

# caption
caption_y = [1293.5, 1319.5, 1346.5, 1373.5]
for line, yy in zip(caption_lines, caption_y):
    x, y = px(23.5, yy)
    annos.append(dict(x=x, y=y, xref="paper", yref="paper", text=line, showarrow=False,
                      xanchor="left", yanchor="middle", align="left",
                      font=dict(family="Noto Sans", size=18.2, color="#3c3c3c")))

def P(x, y):
    a_, b_ = px(x, y)
    return f"{a_:.5f} {b_:.5f}"

border = f"M {P(13,1392)} Q {P(10,1391)} {P(10,1385)} L {P(10,28)} Q {P(10,12)} {P(26,12)} L {P(1284,12)}"

fig.update_layout(
    width=W, height=H, margin=dict(l=0, r=0, t=0, b=0), paper_bgcolor="white", showlegend=False,
    polar=dict(
        domain=dict(x=[(CX - RMAX) / W, (CX + RMAX) / W], y=[1 - (CY + RMAX) / H, 1 - (CY - RMAX) / H]),
        bgcolor="rgba(0,0,0,0)", barmode="overlay",
        radialaxis=dict(visible=False, range=[0, RMAX]),
        angularaxis=dict(visible=False, rotation=90, direction="clockwise"),
    ),
    annotations=annos,
    shapes=[dict(type="path", path=border, xref="paper", yref="paper", line=dict(color="#333333", width=1.2))],
)

fig.write_html("out.html", post_script="document.body.style.margin='0';", config={"displayModeBar": False})
